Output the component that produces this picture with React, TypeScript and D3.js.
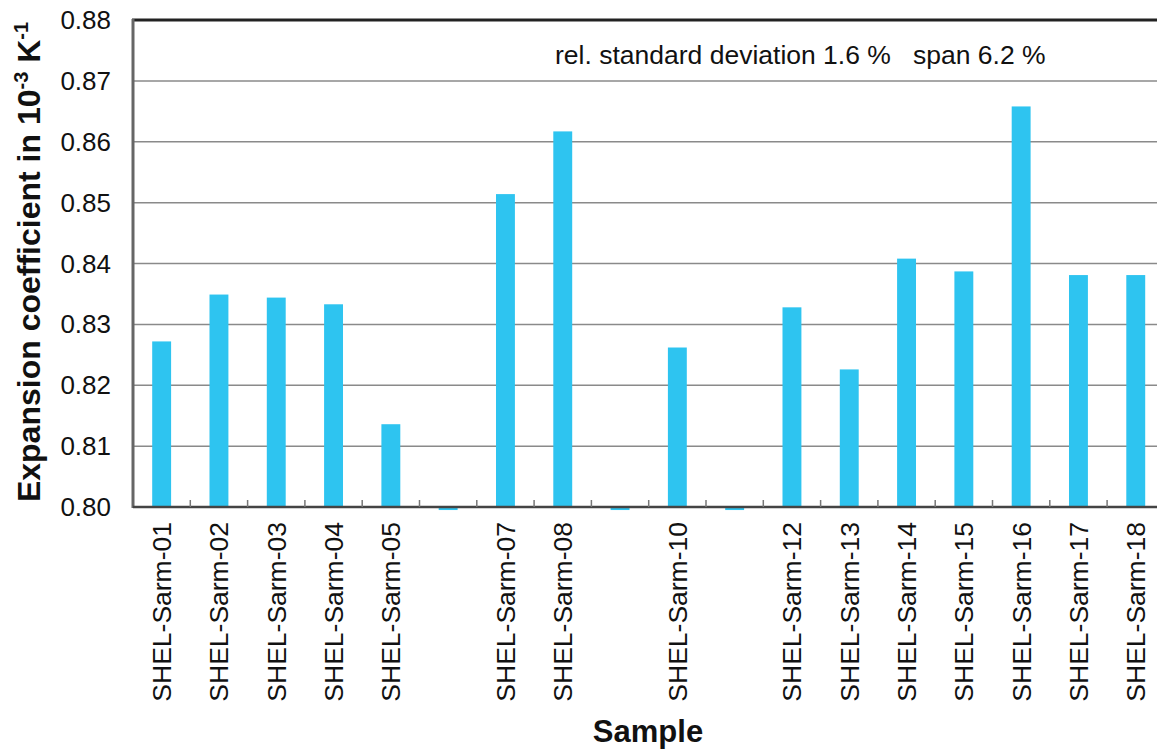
import React from "react";
import * as d3 from "d3";

const categories = [
  "SHEL-Sarm-01", "SHEL-Sarm-02", "SHEL-Sarm-03", "SHEL-Sarm-04", "SHEL-Sarm-05", "SHEL-Sarm-06",
  "SHEL-Sarm-07", "SHEL-Sarm-08", "SHEL-Sarm-09", "SHEL-Sarm-10", "SHEL-Sarm-11", "SHEL-Sarm-12",
  "SHEL-Sarm-13", "SHEL-Sarm-14", "SHEL-Sarm-15", "SHEL-Sarm-16", "SHEL-Sarm-17", "SHEL-Sarm-18",
];
const shownLabels = [true, true, true, true, true, false, true, true, false, true, false, true, true, true, true, true, true, true];
const values = [
  0.8272, 0.8349, 0.8344, 0.8333, 0.8136, 0.7995,
  0.8514, 0.8617, 0.7995, 0.8262, 0.7995, 0.8328,
  0.8226, 0.8408, 0.8387, 0.8658, 0.8381, 0.8381,
];
const yTicks = [0.8, 0.81, 0.82, 0.83, 0.84, 0.85, 0.86, 0.87, 0.88];
const annotation = "rel. standard deviation 1.6 %   span 6.2 %";

const W = 1157, H = 751;
const left = 133, top = 20, bottom = 507;
const bandW = 57.3;
const right = left + bandW * categories.length;
const font = "'Liberation Sans', Arial, sans-serif";

export default function App() {
  const x = d3.scaleBand<string>().domain(categories).range([left, right]).paddingInner(0.67).paddingOuter(0.335);
  const y = d3.scaleLinear().domain([0.8, 0.88]).range([bottom, top]);
  const boundaries = d3.range(1, categories.length).map((i) => left + (right - left) * i / categories.length);
  return (
    <svg width={W} height={H} style={{ position: "absolute", left: 0, top: 0, background: "#fff" }} fontFamily={font}>
      {yTicks.slice(1, -1).map((t) => (
        <line key={t} x1={left} x2={right} y1={y(t)} y2={y(t)} stroke="#8a8a8a" strokeWidth={1.5} />
      ))}
      <rect x={535} y={30} width={619} height={46} fill="#fff" />
      <text x={555} y={64} fontSize={26.5} fill="#111">{annotation.replace(/ {3}/, "\u00a0\u00a0\u00a0")}</text>
      {values.map((v, i) => {
        const x0 = x(categories[i])!;
        const y0 = y(v), yb = y(0.8);
        return (
          <rect key={i} x={x0} width={x.bandwidth()} y={Math.min(y0, yb)} height={Math.abs(yb - y0)} fill="#2EC4F0" />
        );
      })}
      <line x1={left - 1} x2={right} y1={top} y2={top} stroke="#222" strokeWidth={3} />
      <line x1={left} x2={left} y1={top - 1} y2={bottom + 1} stroke="#666" strokeWidth={3} />
      <line x1={left} x2={right} y1={bottom} y2={bottom} stroke="#444" strokeWidth={2.5} />
      {boundaries.map((b, i) => (
        <line key={i} x1={b} x2={b} y1={bottom} y2={bottom - 7} stroke="#777" strokeWidth={1.5} />
      ))}
      {yTicks.map((t) => (
        <text key={t} x={111} y={y(t) + 9} fontSize={26} textAnchor="end" fill="#111">{t.toFixed(2)}</text>
      ))}
      {categories.map((c, i) =>
        shownLabels[i] ? (
          <text key={c} transform={`translate(${x(c)! + x.bandwidth() / 2 + 9.5},${522}) rotate(-90)`} fontSize={26.5} textAnchor="end" fill="#111">{c}</text>
        ) : null
      )}
      <text transform={`translate(40,${262}) rotate(-90)`} fontSize={32} fontWeight="bold" textAnchor="middle" fill="#111">
        Expansion coefficient in 10<tspan dy={-12} fontSize={20}>-3</tspan><tspan dy={12}> K</tspan><tspan dy={-12} fontSize={20}>-1</tspan>
      </text>
      <text x={648} y={742} fontSize={31} fontWeight="bold" textAnchor="middle" fill="#111">Sample</text>
    </svg>
  );
}
